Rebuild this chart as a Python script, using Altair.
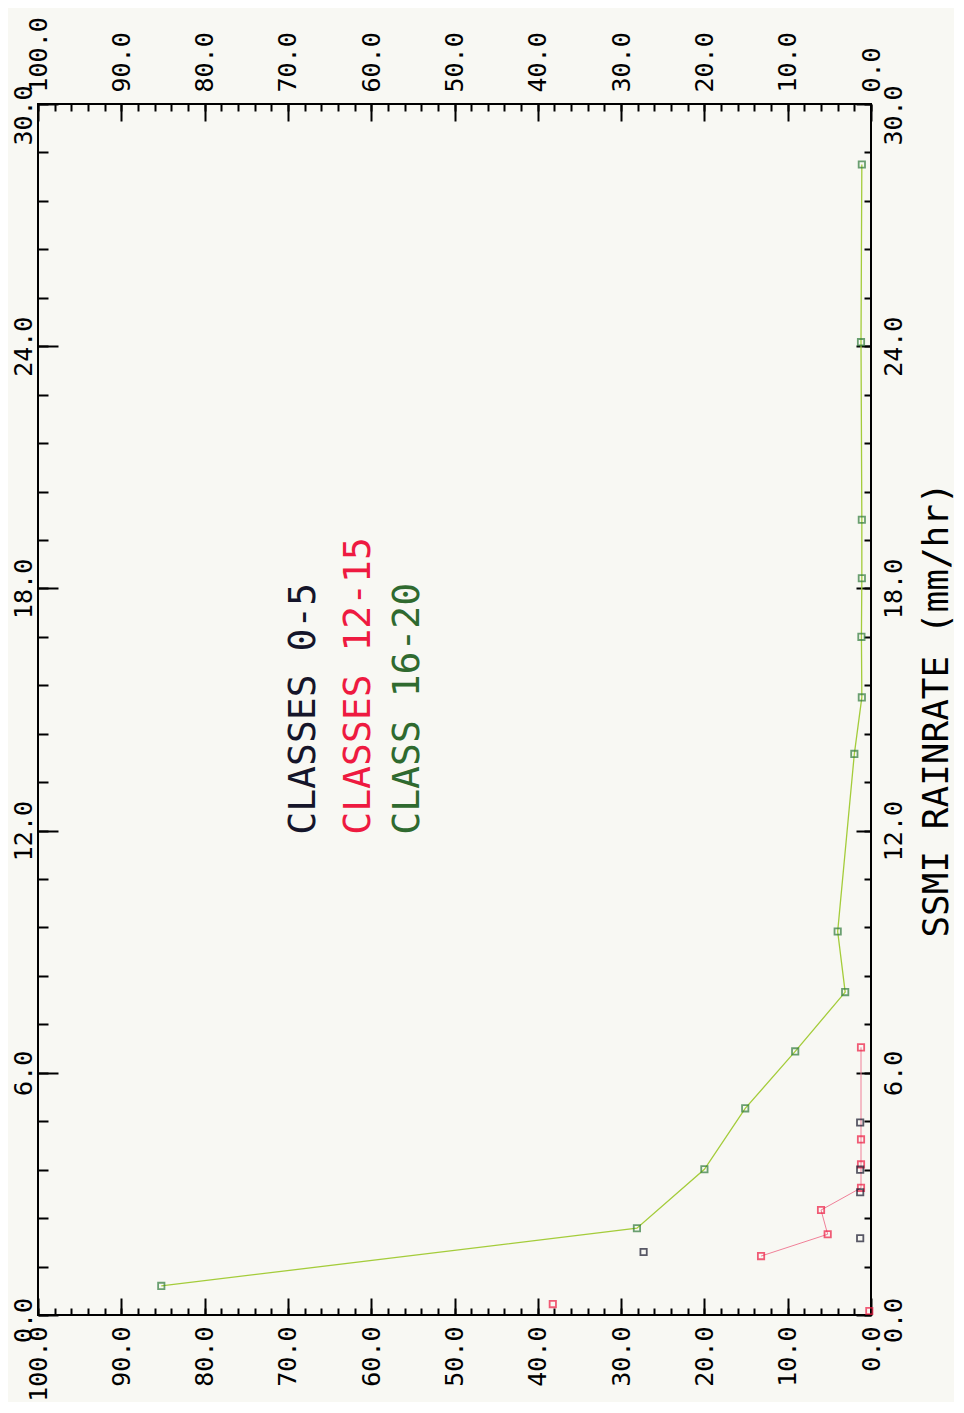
import altair as alt
import pandas as pd

# ---------------- data ----------------
# CLASS 16-20 (green)
green_rain = [0.72, 2.15, 3.61, 5.12, 6.53, 8.0, 9.5, 13.9, 15.3, 16.8, 18.25, 19.7, 24.1, 28.5]
green_pct = [85.2, 28.1, 20.0, 15.1, 9.1, 3.1, 4.0, 2.0, 1.1, 1.15, 1.1, 1.1, 1.2, 1.1]
# CLASSES 12-15 (red)
red_rain = [0.1, 0.27, 1.46, 2.0, 2.6, 3.15, 3.73, 4.35, 6.63]
red_pct = [0.2, 38.2, 13.2, 5.2, 6.0, 1.2, 1.2, 1.2, 1.2]
red_joined = [False, False, True, True, True, True, True, True, True]
# CLASSES 0-5 (black)
black_rain = [1.56, 1.9, 3.04, 3.6, 4.77]
black_pct = [27.3, 1.3, 1.3, 1.3, 1.3]

# axis ticks
pct_major = [0, 10, 20, 30, 40, 50, 60, 70, 80, 90, 100]
pct_minor = [0, 2, 4, 6, 8, 10, 12, 14, 16, 18, 20, 22, 24, 26, 28, 30, 32, 34, 36, 38, 40,
             42, 44, 46, 48, 50, 52, 54, 56, 58, 60, 62, 64, 66, 68, 70, 72, 74, 76, 78, 80,
             82, 84, 86, 88, 90, 92, 94, 96, 98, 100]
rain_major = [0, 6, 12, 18, 24, 30]
rain_minor = [0, 1.2, 2.4, 3.6, 4.8, 6, 7.2, 8.4, 9.6, 10.8, 12, 13.2, 14.4, 15.6, 16.8, 18,
              19.2, 20.4, 21.6, 22.8, 24, 25.2, 26.4, 27.6, 28.8, 30]

# legend (text annotations, placed in data units)
legend_labels = ["CLASSES 0-5", "CLASSES 12-15", "CLASS 16-20"]
legend_pct = [68.1, 61.5, 55.6]
legend_rain = [11.9, 11.9, 11.9]
legend_colors = ["#15152a", "#ee1a40", "#2f6a2f"]

x_title = "SSMI RAINRATE (mm/hr)"

# ---------------- chart ----------------
FONT = "DejaVu Sans Mono"
green_df = pd.DataFrame({"rain": green_rain, "pct": green_pct})
red_df = pd.DataFrame({"rain": red_rain, "pct": red_pct, "joined": red_joined})
black_df = pd.DataFrame({"rain": black_rain, "pct": black_pct})
legend_df = pd.DataFrame({"label": legend_labels, "pct": legend_pct,
                          "rain": legend_rain, "color": legend_colors})

xscale = alt.Scale(domain=[0, 100], reverse=True, nice=False, zero=False)
yscale = alt.Scale(domain=[0, 30], nice=False, zero=False)

common = dict(grid=False, domain=False, title=None)

# end labels of the rain-rate axes sit a little below their ticks
end_offset = {"condition": [{"test": "datum.value >= 30", "value": 11},
                            {"test": "datum.value <= 0", "value": 5}],
              "value": 0}


def label_axis(orient, values, align, baseline, pad, **kw):
    args = dict(orient=orient, values=values, format=".1f", labelAngle=270,
                labelAlign=align, labelBaseline=baseline, labelPadding=pad,
                ticks=False, domain=False, grid=False, labelFont=FONT,
                labelFontSize=25, labelColor="black", labelOverlap=False,
                labelFlush=False, labelBound=False)
    if "title" not in kw:
        args["title"] = None
    args.update(kw)
    return alt.Axis(**args)


def tick_axis(orient, values, size):
    return alt.Axis(orient=orient, values=values, tickSize=size, offset=-size,
                    labels=False, ticks=True, tickColor="black", tickWidth=2,
                    **common)


def axis_layer(xa, ya):
    return alt.Chart(green_df).mark_point(opacity=0).encode(
        x=alt.X("pct:Q", scale=xscale, axis=xa),
        y=alt.Y("rain:Q", scale=yscale, axis=ya),
    )


layers = [
    axis_layer(label_axis("bottom", pct_major, "right", "middle", 11),
               label_axis("left", rain_major, "center", "bottom", 2,
                          labelOffset=end_offset)),
    axis_layer(label_axis("top", pct_major, "left", "middle", 12),
               label_axis("right", rain_major, "center", "top", 10,
                          labelOffset=end_offset,
                          title=x_title, titleAngle=270, titleFont=FONT,
                          titleFontSize=36, titleFontWeight="normal",
                          titleColor="black", titleBaseline="top",
                          titlePadding=13)),
    axis_layer(tick_axis("bottom", pct_major, 17), tick_axis("left", rain_major, 20)),
    axis_layer(tick_axis("bottom", pct_minor, 7), tick_axis("left", rain_minor, 10)),
    axis_layer(tick_axis("top", pct_major, 17), tick_axis("right", rain_major, 15)),
    axis_layer(tick_axis("top", pct_minor, 7), tick_axis("right", rain_minor, 7)),
]


def enc(chart):
    return chart.encode(
        x=alt.X("pct:Q", scale=xscale, axis=None),
        y=alt.Y("rain:Q", scale=yscale, axis=None),
    )


green_line = enc(alt.Chart(green_df).mark_line(color="#a4cc3a", strokeWidth=1.3)).encode(
    order=alt.Order("rain:Q"))
green_pts = enc(alt.Chart(green_df).mark_point(shape="square", filled=False, size=40,
                                               strokeWidth=1.8, color="#2f7a3a"))
red_line = enc(alt.Chart(red_df).transform_filter("datum.joined").mark_line(
    color="#f08098", strokeWidth=1.0)).encode(order=alt.Order("rain:Q"))
red_pts = enc(alt.Chart(red_df).mark_point(shape="square", filled=False, size=40,
                                           strokeWidth=1.8, color="#ee1a40"))
black_pts = enc(alt.Chart(black_df).mark_point(shape="square", filled=False, size=40,
                                               strokeWidth=1.8, color="#15152a"))
legend_txt = alt.Chart(legend_df).mark_text(
    angle=270, align="left", baseline="middle", font=FONT, fontSize=38
).encode(
    x=alt.X("pct:Q", scale=xscale, axis=None),
    y=alt.Y("rain:Q", scale=yscale, axis=None),
    text="label:N",
    color=alt.Color("color:N", scale=None),
)

chart = alt.layer(
    *layers, green_line, red_line, green_pts, red_pts, black_pts, legend_txt
).resolve_axis(x="independent", y="independent").properties(
    width=833, height=1211, background="#f8f8f3",
    padding={"left": 2, "top": 8, "right": 0, "bottom": 0},
).configure_view(stroke="black", strokeWidth=2)

chart.save("out.html", embed_options={"renderer": "svg", "actions": False})
